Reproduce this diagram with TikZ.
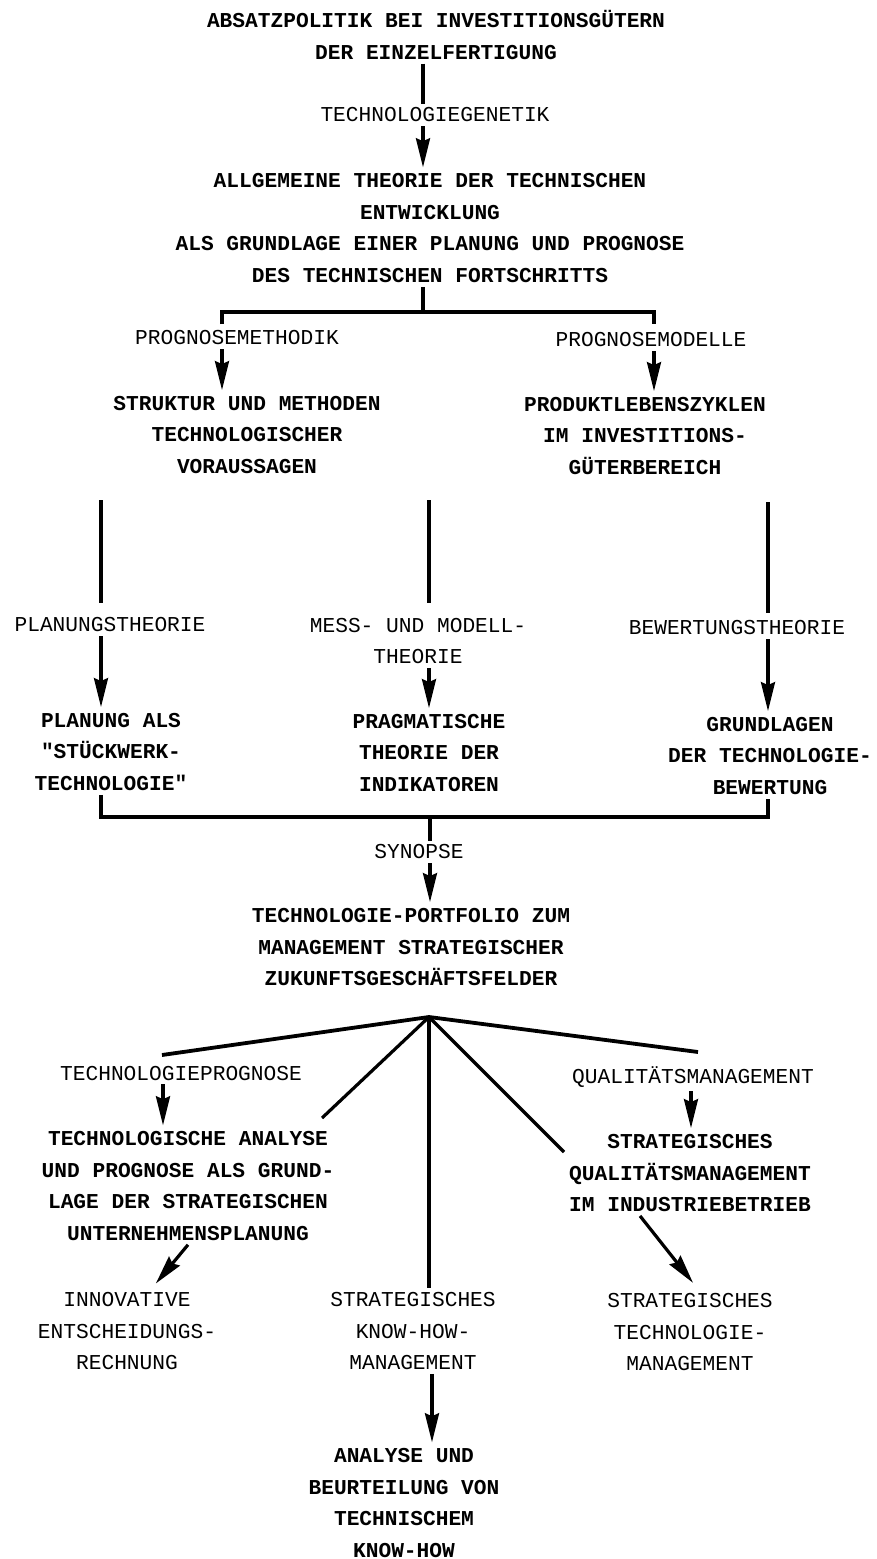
\documentclass[tikz,border=0pt]{standalone}
\usepackage{fontspec}
\usetikzlibrary{arrows.meta}
\newfontfamily\typew{Liberation Mono}
\newcommand{\boxfont}{\typew\bfseries\fontsize{21.2}{31.7}\selectfont}
\newcommand{\lblfont}{\typew\fontsize{21.2}{31.7}\selectfont}

\begin{document}
\begin{tikzpicture}[x=1pt,y=1pt,yscale=-1,xscale=1,
    box/.style={font=\boxfont, align=center, inner sep=0pt, outer sep=4pt},
    lbl/.style={font=\lblfont, align=center, inner sep=0pt, outer sep=4pt},
    conn/.style={line width=3.2pt},
    arr/.style={line width=3.2pt, -{Stealth[length=29pt,width=14pt,inset=3pt]}, shorten >=2pt}]
    \useasboundingbox (0,0) rectangle (876,1559);

    % Text Node
    \node[box] (absatz) at (436,35) {ABSATZPOLITIK BEI INVESTITIONSGÜTERN\\DER EINZELFERTIGUNG};
    % Text Node
    \node[lbl] (gen) at (435,115) {TECHNOLOGIEGENETIK};
    % Text Node
    \node[box] (theorie) at (430,228) {ALLGEMEINE THEORIE DER TECHNISCHEN\\ENTWICKLUNG\\ALS GRUNDLAGE EINER PLANUNG UND PROGNOSE\\DES TECHNISCHEN FORTSCHRITTS};
    % Text Node
    \node[lbl] (pmeth) at (237,338) {PROGNOSEMETHODIK};
    % Text Node
    \node[lbl] (pmod) at (651,340) {PROGNOSEMODELLE};
    % Text Node
    \node[box] (struktur) at (247,435) {STRUKTUR UND METHODEN\\TECHNOLOGISCHER\\VORAUSSAGEN};
    % Text Node
    \node[box] (zyklen) at (645,436) {PRODUKTLEBENSZYKLEN\\IM INVESTITIONS-\\GÜTERBEREICH};
    % Text Node
    \node[lbl] (plth) at (110,625) {PLANUNGSTHEORIE};
    % Text Node
    \node[lbl] (mess) at (418,641) {MESS- UND MODELL-\\THEORIE};
    % Text Node
    \node[lbl] (bwth) at (737,628) {BEWERTUNGSTHEORIE};
    % Text Node
    \node[box] (planung) at (111,752) {PLANUNG ALS\\\textquotedbl STÜCKWERK-\\TECHNOLOGIE\textquotedbl};
    % Text Node
    \node[box] (pragm) at (429,753) {PRAGMATISCHE\\THEORIE DER\\INDIKATOREN};
    % Text Node
    \node[box] (grundl) at (770,756) {GRUNDLAGEN\\DER TECHNOLOGIE-\\BEWERTUNG};
    % Text Node
    \node[lbl] (synopse) at (419,852) {SYNOPSE};
    % Text Node
    \node[box] (portfolio) at (411,947) {TECHNOLOGIE-PORTFOLIO ZUM\\MANAGEMENT STRATEGISCHER\\ZUKUNFTSGESCHÄFTSFELDER};
    % Text Node
    \node[lbl] (tprog) at (181,1073) {TECHNOLOGIEPROGNOSE};
    % Text Node
    \node[box] (tanalyse) at (188,1186) {TECHNOLOGISCHE ANALYSE\\UND PROGNOSE ALS GRUND-\\LAGE DER STRATEGISCHEN\\UNTERNEHMENSPLANUNG};
    % Text Node
    \node[lbl] (qm) at (693,1077) {QUALITÄTSMANAGEMENT};
    % Text Node
    \node[box] (sqm) at (690,1173) {STRATEGISCHES\\QUALITÄTSMANAGEMENT\\IM INDUSTRIEBETRIEB};
    % Text Node
    \node[lbl] (innov) at (127,1331) {INNOVATIVE\\ENTSCHEIDUNGS-\\RECHNUNG};
    % Text Node
    \node[lbl] (knowhow) at (413,1331) {STRATEGISCHES\\KNOW-HOW-\\MANAGEMENT};
    % Text Node
    \node[lbl] (stm) at (690,1332) {STRATEGISCHES\\TECHNOLOGIE-\\MANAGEMENT};
    % Text Node
    \node[box] (analyse) at (404,1503) {ANALYSE UND\\BEURTEILUNG VON\\TECHNISCHEM\\KNOW-HOW};

    %Coordinates
    \coordinate (trunk) at (423,0);
    \coordinate (bar1) at (423,312);
    \coordinate (tickL) at (222,324);
    \coordinate (tickR) at (654,324);
    \coordinate (colL) at (101,500);
    \coordinate (colM) at (429,500);
    \coordinate (colR) at (768,502);
    \coordinate (bar2) at (430,817);
    \coordinate (fan) at (429,1017);
    \coordinate (f1) at (162,1055);
    \coordinate (f2) at (322,1118);
    \coordinate (f4) at (564,1152);
    \coordinate (f5) at (698,1052);
    \coordinate (colTL) at (163,0);
    \coordinate (colTR) at (691,0);
    \coordinate (colB) at (432,0);

    %Straight Lines
    \draw[conn] (absatz.south -| trunk) -- (gen.north -| trunk);
    \draw[arr] (gen.south -| trunk) -- (theorie.north -| trunk);
    \draw[conn] (theorie.south -| trunk) -- (bar1);
    \draw[conn] (tickL) |- (bar1) -| (tickR);
    \draw[arr] (pmeth.south -| tickL) -- (struktur.north -| tickL);
    \draw[arr] (pmod.south -| tickR) -- (zyklen.north -| tickR);
    %Straight Lines
    \draw[conn, shorten >=11pt] (colL) -- (plth.north -| colL);
    \draw[conn, shorten >=11pt] (colM) -- (mess.north -| colM);
    \draw[conn, shorten >=4pt] (colR) -- (bwth.north -| colR);
    \draw[arr] (plth.south -| colL) -- (planung.north -| colL);
    \draw[arr] (mess.south -| colM) -- (pragm.north -| colM);
    \draw[arr] (bwth.south -| colR) -- (grundl.north -| colR);
    \draw[conn] (planung.south -| colL) |- (bar2) -| (grundl.south -| colR);
    \draw[conn] (bar2) -- (synopse.north -| bar2);
    \draw[arr] (synopse.south -| bar2) -- (portfolio.north -| bar2);
    %Fan Lines
    \draw[line width=3.8pt] (f1) -- (fan) -- (f5);
    \draw[conn] (fan) -- (f2);
    \draw[conn] (fan) -- (f4);
    \draw[conn] (fan) -- (knowhow.north -| fan);
    \draw[arr] (tprog.south -| colTL) -- (tanalyse.north -| colTL);
    \draw[arr] (qm.south -| colTR) -- (sqm.north -| colTR);
    \draw[arr, shorten >=6pt] (tanalyse.south) -- ([xshift=25pt]innov.north);
    \draw[arr, shorten >=8pt] ([xshift=-50pt]sqm.south) -- ([xshift=8pt]stm.north);
    \draw[arr] (knowhow.south -| colB) -- (analyse.north -| colB);

\end{tikzpicture}
\end{document}
